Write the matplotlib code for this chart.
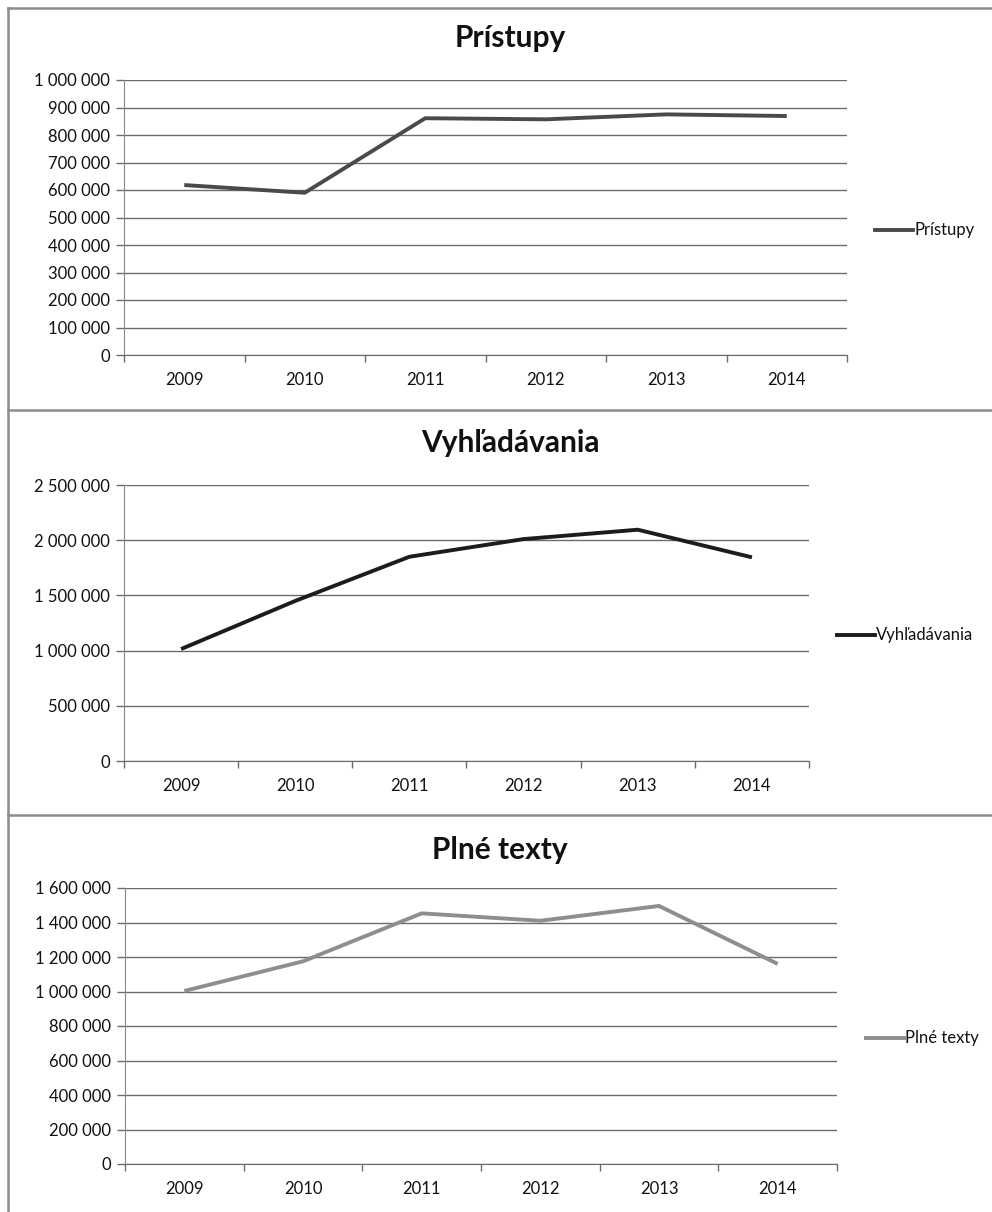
import matplotlib
matplotlib.use("Agg")
import matplotlib.pyplot as plt
from matplotlib.lines import Line2D
from matplotlib.ticker import FuncFormatter, FixedLocator

years = ["2009", "2010", "2011", "2012", "2013", "2014"]
pristupy = [618000, 590000, 861000, 857000, 875000, 869000]
vyhladavania = [1014000, 1450000, 1850000, 2010000, 2095000, 1845000]
plne_texty = [1003000, 1175000, 1453000, 1410000, 1496000, 1160000]

titles = ["Prístupy", "Vyhľadávania", "Plné texty"]
series = [pristupy, vyhladavania, plne_texty]
ymax = [1000000, 2500000, 1600000]
ystep = [100000, 500000, 200000]
colors = ["#4a4a4a", "#1c1c1c", "#8e8e8e"]

W, H = 992, 1212
fig = plt.figure(figsize=(W / 100, H / 100), dpi=100)
plt.rcParams['font.family'] = ['Lato', 'DejaVu Sans']

def fx(x):
    return x / W

def fy(y):
    return 1 - y / H

# panel geometry in pixels: (left, right, top, bottom), title (x, y), legend (x, y)
axes_px = [(124, 847, 80, 355), (124, 809, 485, 761), (125, 837, 888, 1164)]
title_px = [(510, 38), (510, 443), (500, 850)]
legend_px = [(875, 230), (837, 635), (866, 1038)]

fmt = FuncFormatter(lambda v, p: f"{int(v):,}".replace(",", " "))
FS = 12

for i in range(3):
    l, r, t, b = axes_px[i]
    ax = fig.add_axes([fx(l), fy(b), fx(r - l), (b - t) / H])
    x = list(range(len(years)))
    ax.plot(x, series[i], color=colors[i], lw=2.8, solid_joinstyle='round',
            solid_capstyle='butt', zorder=3)
    ax.set_xlim(-0.5, len(years) - 0.5)
    ax.set_ylim(0, ymax[i])
    yt = list(range(0, ymax[i] + 1, ystep[i]))
    ax.set_yticks(yt)
    ax.yaxis.set_major_formatter(fmt)
    ax.grid(axis='y', color='#6b6b6b', lw=1.0, zorder=1)
    ax.set_axisbelow(True)
    ax.set_xticks(x)
    ax.set_xticklabels(years)
    ax.xaxis.set_minor_locator(FixedLocator([k - 0.5 for k in range(len(years) + 1)]))
    ax.tick_params(axis='x', which='major', length=0, pad=12, labelsize=FS, labelcolor='#111111')
    ax.tick_params(axis='x', which='minor', length=5, color='#6b6b6b', width=1, direction='out')
    ax.tick_params(axis='y', length=6, color='#6b6b6b', width=1, pad=4, labelsize=FS, labelcolor='#111111')
    for s in ['top', 'right']:
        ax.spines[s].set_visible(False)
    ax.spines['left'].set_color('#8a8a8a')
    ax.spines['bottom'].set_color('#6b6b6b')
    tx, ty = title_px[i]
    fig.text(fx(tx), fy(ty), titles[i], ha='center', va='center',
             fontsize=21.5, fontweight='bold', color='#111111')
    lx, ly = legend_px[i]
    fig.add_artist(Line2D([fx(lx), fx(lx + 38)], [fy(ly), fy(ly)], color=colors[i], lw=2.8))
    fig.text(fx(lx + 39), fy(ly), titles[i], ha='left', va='center', fontsize=FS, color='#111111')

# panel borders
bc = '#8c8c8c'
fig.add_artist(Line2D([fx(8), fx(8)], [fy(8), fy(1212)], color=bc, lw=1.8))
for yb in [8, 410, 815]:
    fig.add_artist(Line2D([fx(8), fx(992)], [fy(yb), fy(yb)], color=bc, lw=1.8))

fig.savefig("out.png", dpi=100, facecolor='white')
